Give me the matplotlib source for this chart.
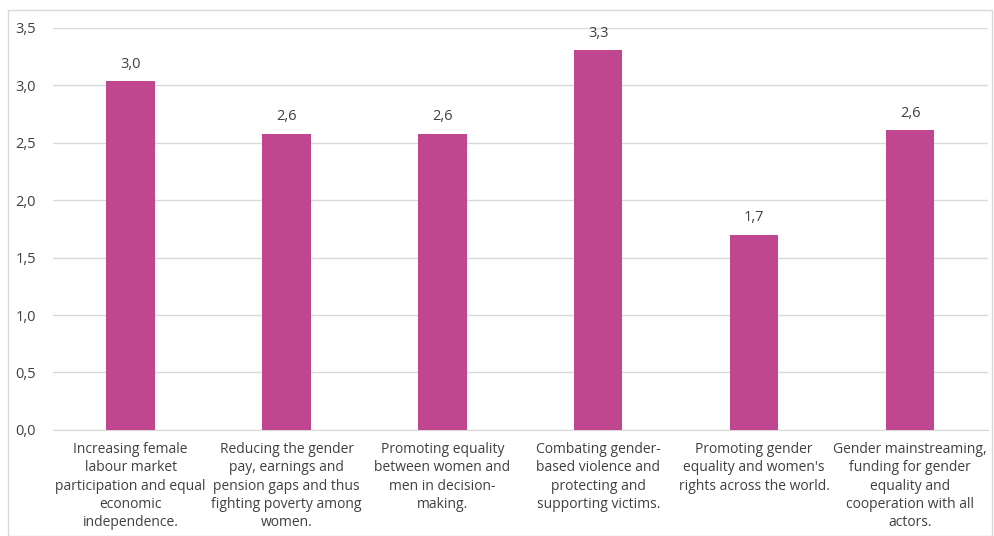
import numpy as np
import matplotlib.pyplot as plt
from matplotlib.patches import Rectangle

# Datos del gráfico
categorias = [
    "Increasing female\nlabour market\nparticipation and equal\neconomic\nindependence.",
    "Reducing the gender\npay, earnings and\npension gaps and thus\nfighting poverty among\nwomen.",
    "Promoting equality\nbetween women and\nmen in decision-\nmaking.",
    "Combating gender-\nbased violence and\nprotecting and\nsupporting victims.",
    "Promoting gender\nequality and women's\nrights across the world.",
    "Gender mainstreaming,\nfunding for gender\nequality and\ncooperation with all\nactors.",
]
valores = [3.04, 2.58, 2.58, 3.31, 1.70, 2.61]
ticks_y = [0.0, 0.5, 1.0, 1.5, 2.0, 2.5, 3.0, 3.5]

color_barra = "#C0468F"
color_texto = "#404040"

plt.rcParams['font.family'] = ['Open Sans', 'DejaVu Sans']

fig = plt.figure(figsize=(9.94, 5.36), dpi=100)
ax = fig.add_axes([0.053, 0.198, 0.941, 0.75])

# Marco exterior de la figura
fig.patches.append(Rectangle((0.008, 0.0), 0.99, 0.982, transform=fig.transFigure,
                             fill=False, edgecolor="#D9D9D9", linewidth=1))

x = np.arange(len(categorias))
barras = ax.bar(x, valores, width=0.31, color=color_barra, zorder=3)

for xi, v in zip(x, valores):
    ax.text(xi, v + 0.08, f"{v:.1f}".replace(".", ","), ha="center", va="bottom",
            fontsize=10.5, color=color_texto)

ax.set_xlim(-0.5, len(categorias) - 0.5)
ax.set_ylim(0, 3.5)
ax.set_yticks(ticks_y)
ax.set_yticklabels([f"{t:.1f}".replace(".", ",") for t in ticks_y], fontsize=10.5, color=color_texto)
ax.set_xticks(x)
ax.set_xticklabels(categorias, fontsize=10, color=color_texto, linespacing=1.28, va="top")
ax.tick_params(axis="both", length=0)
ax.tick_params(axis="x", pad=9)
ax.tick_params(axis="y", pad=12)
ax.grid(axis="y", color="#D9D9D9", linewidth=1, zorder=0)
for lado in ["top", "right", "left"]:
    ax.spines[lado].set_visible(False)
ax.spines["bottom"].set_color("#D9D9D9")

fig.savefig("out.png", dpi=100)
